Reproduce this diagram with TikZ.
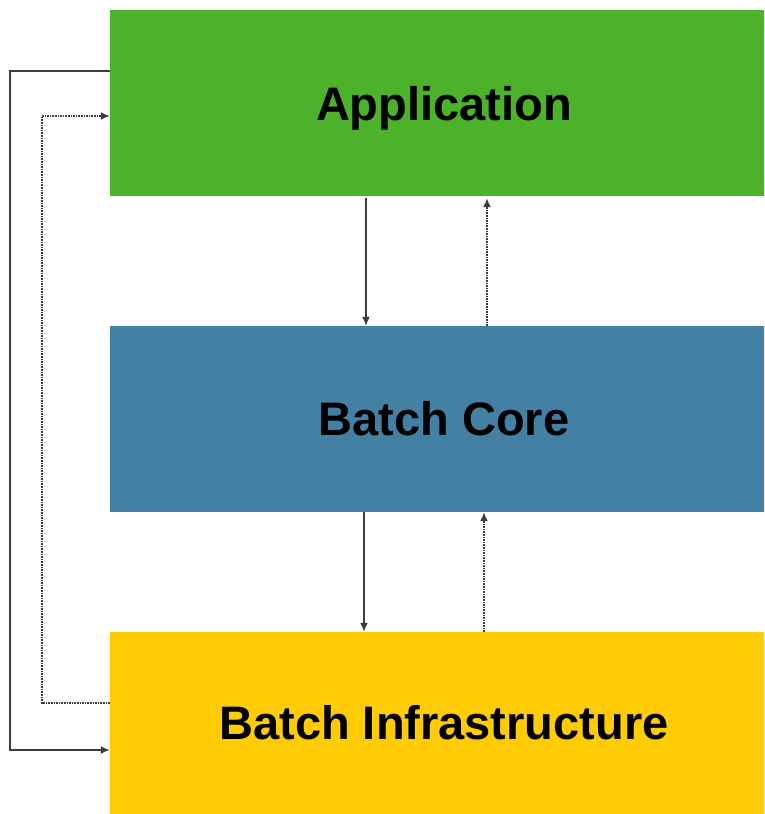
\documentclass[tikz,border=0pt]{standalone}
\usepackage{fontspec}
\setmainfont{Liberation Sans}
\usetikzlibrary{arrows.meta}
\definecolor{appgreen}{RGB}{75,178,42}
\definecolor{coreblue}{RGB}{66,129,164}
\definecolor{infrayellow}{RGB}{255,203,5}
\definecolor{linegray}{RGB}{60,60,60}
\begin{document}
\begin{tikzpicture}[x=1pt,y=-1pt,
    layer/.style={minimum width=668pt, inner sep=0pt, font=\fontsize{47}{50}\selectfont\bfseries},
    call/.style={draw=linegray, line width=1.6pt, -{Latex[length=9pt,width=8pt]}},
    back/.style={call, densely dotted}]
        \useasboundingbox (0,0) rectangle (764,814);
        \begin{scope}
        \clip (0,0) rectangle (764,814);
        \node[layer, fill=appgreen, minimum height=186pt, text depth=-4pt] (app) at (444,103) {Application};
        \node[layer, fill=coreblue, minimum height=186pt] (core) at (444,419) {Batch Core};
        \node[layer, fill=infrayellow, minimum height=182pt] (infra) at (444,723) {Batch Infrastructure};
        \end{scope}
        % between layers
        \draw[call] ([xshift=-78pt,yshift=-2pt]app.south) -- ([xshift=-78pt]core.north);
        \draw[back] ([xshift=43pt]core.north) -- ([xshift=43pt,yshift=-2pt]app.south);
        \draw[call] ([xshift=-80pt]core.south) -- ([xshift=-80pt]infra.north);
        \draw[back] ([xshift=40pt]infra.north) -- ([xshift=40pt]core.south);
        % around the left side
        \draw[call] ([yshift=32pt]app.west) -- ++(-100,0) |- ([yshift=-27pt]infra.west);
        \draw[back] ([yshift=20pt]infra.west) -- ++(-68,0) |- ([yshift=-13pt]app.west);
    \end{tikzpicture}
\end{document}
